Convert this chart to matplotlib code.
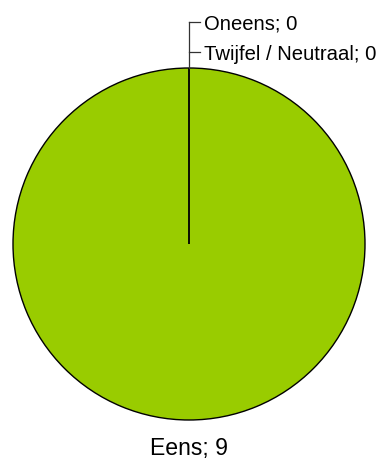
import numpy as np
import matplotlib
matplotlib.use("Agg")
import matplotlib.pyplot as plt

plt.rcParams['font.family'] = ['Liberation Sans', 'DejaVu Sans']

categories = ["Eens", "Oneens", "Twijfel / Neutraal"]
values = [9, 0, 0]
colors = ["#99CC00", "#3366CC", "#FF9900"]

W, H = 379, 462
fig = plt.figure(figsize=(W / 100, H / 100), dpi=100)
ax = fig.add_axes([0, 0, 1, 1])

cx, cy, r = 189, H - 244, 176
ax.pie(values, colors=colors, startangle=90, counterclock=False,
       center=(cx, cy), radius=r, frame=True,
       wedgeprops=dict(edgecolor='black', linewidth=1.0))
ax.set_xlim(0, W)
ax.set_ylim(0, H)
ax.set_aspect('equal')
ax.axis('off')

# Label for the main slice, below the pie
ax.text(cx, H - 455, f"{categories[0]}; {values[0]}", ha='center', va='baseline',
        fontsize=16.6, color='black')

# Leader lines for the zero slices at the top of the pie
total = sum(values)
ang = np.deg2rad(90 - 360 * values[0] / total)
lx = cx + r * np.cos(ang) + 0.5
ly = cy + r * np.sin(ang)
tick_ys = [H - 22, H - 52]
base_ys = [H - 29.5, H - 60.5]
ax.plot([lx, lx], [ly, tick_ys[0]], color='#333333', lw=0.9)
for ty, by, cat, v in zip(tick_ys, base_ys, categories[1:], values[1:]):
    ax.plot([lx, lx + 11], [ty, ty], color='#333333', lw=0.9)
    ax.text(lx + 15, by, f"{cat}; {v}", ha='left', va='baseline', fontsize=14.6, color='black')

fig.savefig("out.png", dpi=100, facecolor='white')
